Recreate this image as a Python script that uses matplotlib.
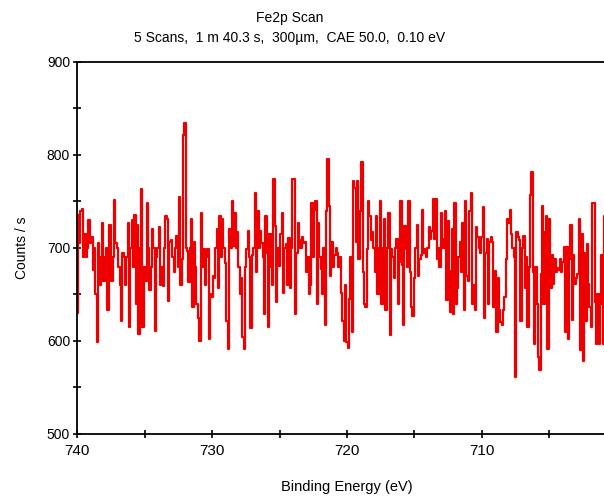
import numpy as np
import matplotlib
matplotlib.use("Agg")
import matplotlib.pyplot as plt
from matplotlib.ticker import MultipleLocator, FixedLocator

# counts/s, 0.1 eV steps starting at 740 eV
seg1 = [630, 735, 705, 740, 742, 690, 715, 690, 700, 730, 705, 712, 676, 700, 650,
        599, 705, 660, 690, 727, 665, 690, 700, 633, 725, 725, 665, 690, 752, 705,
        700, 680, 660, 622, 695, 690, 660, 690, 727, 615, 700, 730, 680, 735, 640,
        725, 608, 700, 763, 615, 680, 665, 748, 700, 655, 680, 720, 700, 611, 690,
        700, 723, 660, 680, 659, 700, 734]
seg2 = [731, 643, 706, 709, 690, 674, 700, 713, 680, 755, 660, 688, 821, 834,
        700, 697, 663, 700, 731, 636, 706, 680, 640, 625, 600, 738, 680, 699, 660,
        690, 699, 602, 650, 647, 670, 668, 700, 720, 657, 734, 690, 731, 700, 684,
        621, 591, 720, 700, 751, 702, 738, 700, 717, 680, 650, 668, 604, 591, 680,
        699, 718, 690, 614, 692, 700, 759]
seg3 = [674, 740, 700, 718, 705, 690, 629, 734, 695, 615, 715, 680, 660, 774, 724,
        642, 700, 681, 715, 738, 652, 700, 704, 660, 711, 657, 700, 774, 774, 629,
        695, 727, 709, 700, 712, 705, 706, 674, 690, 650, 660, 748, 690, 741, 751,
        640, 727, 690, 677, 650, 700, 617, 740, 796, 745, 670, 706, 680, 692, 700,
        695, 680, 690, 652, 621, 600]
seg4 = [660, 599, 592, 645, 690, 610, 772, 765, 706, 772, 688, 740, 792, 674, 640,
        636, 699, 750, 734, 709, 717, 700, 674, 734, 650, 700, 751, 640, 700, 731,
        633, 700, 738, 606, 699, 690, 668, 700, 710, 640, 685, 750, 682, 617, 724,
        699, 680, 751, 674, 636, 627, 668, 700, 725, 670, 688, 692, 741, 695, 699,
        690, 700, 723, 710, 718, 753]
seg5 = [710, 753, 688, 700, 680, 738, 700, 710, 740, 644, 729, 675, 631, 720, 629,
        748, 640, 657, 690, 706, 674, 727, 633, 750, 670, 665, 740, 759, 640, 660,
        633, 723, 712, 700, 695, 712, 744, 625, 695, 710, 640, 706, 712, 706, 637,
        675, 610, 668, 633, 620, 617, 633, 647, 688, 731, 727, 741, 715, 700, 690,
        561, 717, 712, 709, 621, 700]
seg6 = [713, 657, 690, 615, 680, 757, 782, 674, 597, 680, 640, 583, 569, 672, 745,
        640, 717, 734, 591, 731, 657, 692, 661, 688, 674, 678, 676, 688, 674, 685,
        701, 610, 701, 602, 688, 725, 623, 692, 661, 668, 672, 731, 590, 715, 579,
        695, 621, 704, 661, 636, 615, 748, 748, 642, 597, 650, 597, 640, 692, 597,
        734, 636, 663, 629, 640]

counts = np.array(seg1 + seg2 + seg3 + seg4 + seg5 + seg6, dtype=float)
energy = 740.0 - 0.1 * np.arange(len(counts))

x_major = [740, 730, 720, 710]
x_minor = [735, 725, 715, 705]

plt.rcParams['font.family'] = ['Liberation Sans', 'DejaVu Sans']

fig = plt.figure(figsize=(6.04, 4.97), dpi=100)
ax = fig.add_axes([0.1275, 0.1268, 0.894, 0.7485])

ax.plot(energy, counts, color='#ee0000', lw=1.6, drawstyle='steps-mid')

ax.set_xlim(740, 700)
ax.set_ylim(500, 900)
ax.xaxis.set_major_locator(FixedLocator(x_major))
ax.xaxis.set_minor_locator(FixedLocator(x_minor))
ax.yaxis.set_major_locator(MultipleLocator(100))
ax.yaxis.set_minor_locator(MultipleLocator(50))
ax.tick_params(which='both', direction='inout', length=6, width=1.2)
ax.tick_params(axis='x', labelsize=11, pad=4)
ax.tick_params(axis='y', labelsize=10, pad=2)
for s in ax.spines.values():
    s.set_linewidth(1.3)

fig.text(290 / 604, 1 - 18 / 497, 'Fe2p Scan', ha='center', va='center', fontsize=10)
fig.text(290 / 604, 1 - 38 / 497, '5 Scans,  1 m 40.3 s,  300\u00b5m,  CAE 50.0,  0.10 eV',
         ha='center', va='center', fontsize=10)
fig.text(347 / 604, 1 - 487 / 497, 'Binding Energy (eV)', ha='center', va='center', fontsize=10.5)
fig.text(22 / 604, 1 - 248 / 497, 'Counts / s', ha='center', va='center',
         rotation=90, fontsize=10)

fig.savefig('out.png', dpi=100)
